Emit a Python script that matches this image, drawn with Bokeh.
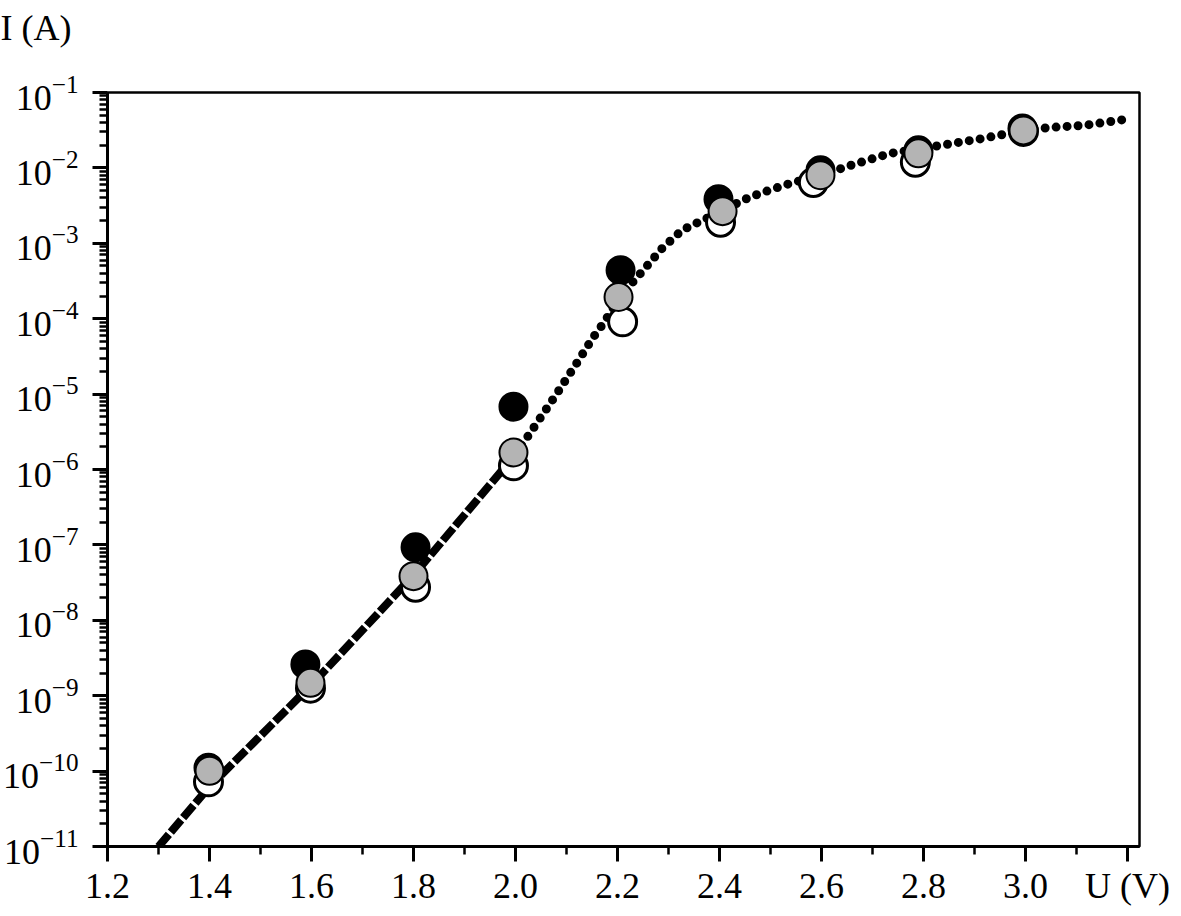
from bokeh.plotting import figure
from bokeh.models import Range1d, FixedTicker, NumeralTickFormatter, Title
from bokeh.embed import file_html
from bokeh.resources import INLINE

# ---- data ----
black_u = [1.398, 1.588, 1.804, 1.996, 2.206, 2.398, 2.598, 2.790, 2.994]
black_i = [1.11e-10, 2.6e-9, 9.3e-8, 6.8e-6, 4.4e-4, 3.85e-3, 9.3e-3, 1.71e-2, 3.34e-2]

grey_u = [1.400, 1.598, 1.800, 1.996, 2.202, 2.406, 2.598, 2.790, 2.996]
grey_i = [1.01e-10, 1.48e-9, 3.85e-8, 1.68e-6, 1.94e-4, 2.67e-3, 8.0e-3, 1.56e-2, 3.14e-2]

white_u = [1.398, 1.598, 1.804, 1.996, 2.210, 2.402, 2.584, 2.784, 2.996]
white_i = [7.2e-11, 1.26e-9, 2.75e-8, 1.12e-6, 9.1e-5, 1.9e-3, 6.4e-3, 1.19e-2, 3.05e-2]

# fitted curve (dense dashed part, then dotted part)
fit_low_u = [1.300, 1.400, 1.600, 1.800, 2.000]
fit_low_i = [1.0e-11, 6.22e-11, 1.39e-9, 3.96e-8, 1.58e-6]
fit_high_u = [2.000, 2.082, 2.118, 2.153, 2.173, 2.206, 2.251, 2.288, 2.327, 2.367,
              2.402, 2.445, 2.480, 2.539, 2.598, 2.657, 2.735, 2.833, 2.918, 2.996,
              3.049, 3.114, 3.196]
fit_high_i = [1.58e-6, 1.04e-5, 2.45e-5, 5.74e-5, 8.79e-5, 2.00e-4, 4.43e-4, 8.65e-4,
              1.50e-3, 2.03e-3, 2.59e-3, 3.72e-3, 4.61e-3, 6.25e-3, 7.98e-3, 1.08e-2,
              1.56e-2, 1.99e-2, 2.47e-2, 3.14e-2, 3.44e-2, 3.66e-2, 4.40e-2]

x_ticks = [1.2, 1.4, 1.6, 1.8, 2.0, 2.2, 2.4, 2.6, 2.8, 3.0, 3.2]
x_minor = [1.3, 1.5, 1.7, 1.9, 2.1, 2.3, 2.5, 2.7, 2.9, 3.1]
y_ticks = [1e-11, 1e-10, 1e-9, 1e-8, 1e-7, 1e-6, 1e-5, 1e-4, 1e-3, 1e-2, 1e-1]

FONT = "Liberation Serif"

p = figure(width=1173, height=908, y_axis_type="log",
           x_range=Range1d(1.2, 3.2235), y_range=Range1d(1e-11, 1e-1),
           output_backend="svg", toolbar_location=None)
p.min_border_left = 107
p.min_border_right = 34
p.min_border_top = 92
p.min_border_bottom = 60
p.xgrid.visible = False
p.ygrid.visible = False
p.outline_line_color = "black"
p.outline_line_width = 2.5
p.background_fill_color = "white"
p.border_fill_color = "white"

# axis title "I (A)" in the top-left corner (a blank spacer title keeps it at the top)
p.title.text = "I (A)"
p.title.align = "left"
p.title.offset = -107
p.title.vertical_align = "top"
p.title.standoff = 2
p.title.text_font = FONT
p.title.text_font_size = "36px"
p.title.text_font_style = "normal"
p.title.text_color = "black"
p.add_layout(Title(text=" ", text_font=FONT, text_font_size="36px", standoff=0), "above")

y_minor = [m * d for d in y_ticks[:-1] for m in range(2, 10)]
p.xaxis.ticker = FixedTicker(ticks=x_ticks, minor_ticks=x_minor)
p.yaxis.ticker = FixedTicker(ticks=y_ticks, minor_ticks=y_minor)
p.xaxis.formatter = NumeralTickFormatter(format="0.0")
p.xaxis.major_label_overrides = {3.2: "U (V)"}

for ax in (p.xaxis, p.yaxis):
    ax.axis_line_width = 3
    ax.axis_line_color = "black"
    ax.major_tick_line_width = 3
    ax.minor_tick_line_width = 2.5
    ax.major_tick_in = 0
    ax.major_tick_out = 15
    ax.minor_tick_in = 0
    ax.minor_tick_out = 8
    ax.major_label_text_font = FONT
    ax.major_label_text_font_size = "36px"
    ax.major_label_text_color = "black"
p.yaxis.major_label_standoff = 14
p.xaxis.major_label_standoff = 4

# markers and fit
p.scatter(black_u, black_i, size=28, marker="circle", fill_color="black",
          line_color="black", line_width=2)
p.line(fit_low_u, fit_low_i, line_width=8, line_color="black", line_dash="16 3")
p.line(fit_high_u, fit_high_i, line_width=9, line_color="black",
       line_dash="0 11", line_cap="round")
p.scatter(white_u, white_i, size=28, marker="circle", fill_color="white",
          line_color="black", line_width=3)
p.scatter(grey_u, grey_i, size=28, marker="circle", fill_color="#b4b4b4",
          line_color="black", line_width=2)

open("out.html", "w").write(file_html(p, INLINE))
